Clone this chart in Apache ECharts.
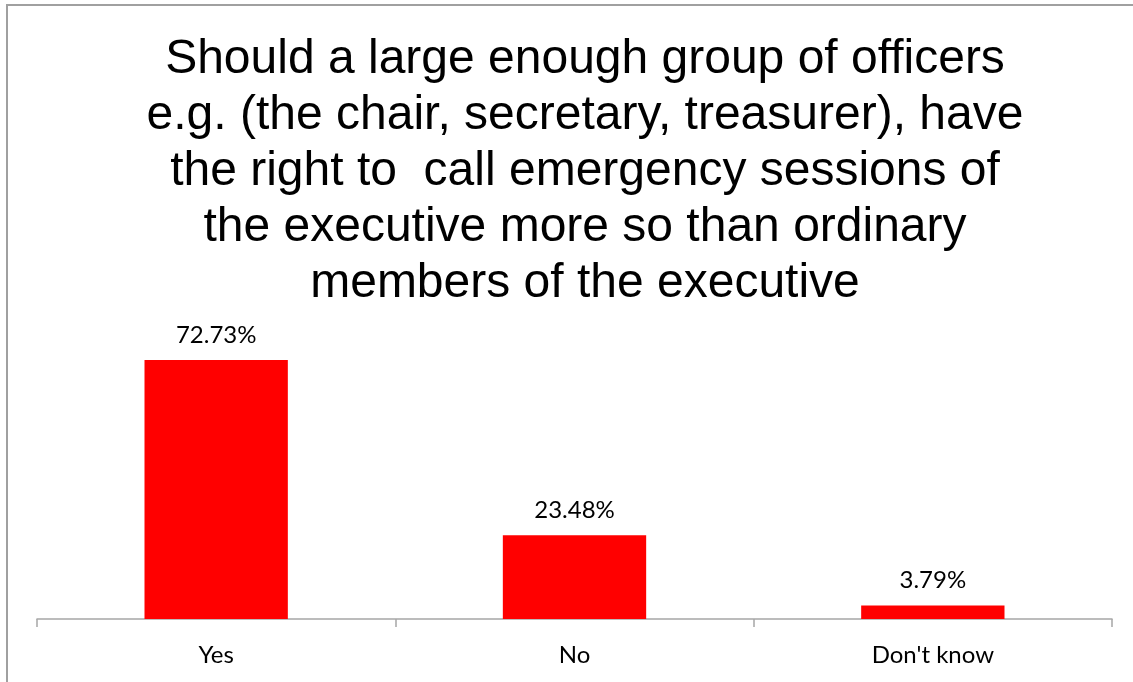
<!DOCTYPE html>
<html>
<head>
<meta charset="utf-8">
<script src="https://cdn.jsdelivr.net/npm/echarts@6/dist/echarts.min.js"></script>
<style>
  html, body { margin: 0; padding: 0; background: #ffffff; }
  #chart { width: 1133px; height: 682px; }
</style>
</head>
<body>
<div id="chart"></div>
<script>
// Survey answers and their shares (percent of respondents)
const categories = ['Yes', 'No', "Don't know"];
const shares = [72.73, 23.48, 3.79];
const titleLines = [
  'Should a large enough group of officers',
  'e.g. (the chair, secretary, treasurer), have',
  'the right to  call emergency sessions of',
  'the executive more so than ordinary',
  'members of the executive'
];

const chart = echarts.init(document.getElementById('chart'), null, { renderer: 'canvas' });

chart.setOption({
  backgroundColor: '#ffffff',
  animation: false,
  title: {
    text: titleLines.join('\n'),
    left: 580,
    top: 27,
    textAlign: 'center',
    textStyle: {
      fontFamily: 'Liberation Sans, Arial, sans-serif',
      fontSize: 48,
      fontWeight: 'normal',
      color: '#000000',
      lineHeight: 56
    }
  },
  graphic: [{
    type: 'rect',
    shape: { x: 7, y: 5, width: 1200, height: 800 },
    style: { fill: 'none', stroke: '#a0a0a0', lineWidth: 2 },
    silent: true
  }],
  grid: { left: 37, right: 21, top: 334, bottom: 63, containLabel: false },
  xAxis: {
    type: 'category',
    data: categories,
    boundaryGap: true,
    axisLine: { show: true, lineStyle: { color: '#a6a6a6', width: 1.5 } },
    axisTick: { show: true, length: 8, lineStyle: { color: '#a6a6a6', width: 1.5 } },
    axisLabel: {
      margin: 24,
      fontFamily: 'Lato, Open Sans, sans-serif',
      fontSize: 24,
      color: '#000000'
    }
  },
  yAxis: {
    type: 'value',
    min: 0,
    max: 80,
    show: false,
    splitLine: { show: false }
  },
  series: [{
    type: 'bar',
    data: shares,
    barWidth: '40%',
    itemStyle: { color: '#ff0000' },
    label: {
      show: true,
      position: 'top',
      distance: 13,
      formatter: p => p.value.toFixed(2) + '%',
      fontFamily: 'Lato, Open Sans, sans-serif',
      fontSize: 24,
      color: '#000000'
    }
  }]
});
</script>
</body>
</html>
